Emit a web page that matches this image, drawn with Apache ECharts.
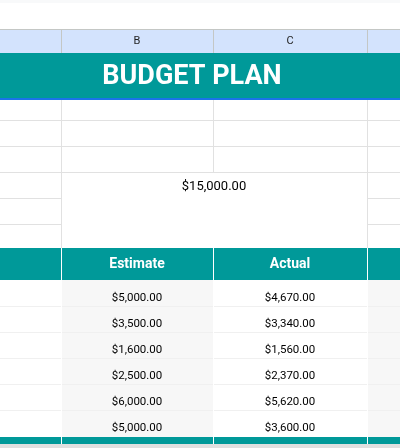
<!DOCTYPE html>
<html><head><meta charset="utf-8">
<script src="https://cdn.jsdelivr.net/npm/echarts@6/dist/echarts.min.js"></script>
<style>html,body{margin:0;padding:0;background:#fff}#c{width:400px;height:448px}</style>
</head><body><div id="c"></div>
<script>
const columnLetters = ['', 'B', 'C', ''];
const headers = ['', 'Estimate', 'Actual', ''];
const estimates = [5000, 3500, 1600, 2500, 6000, 5000];
const actuals = [4670, 3340, 1560, 2370, 5620, 3600];
const total = 15000;
const title = 'BUDGET PLAN';

const colX = [0, 61, 213, 367, 400];
const fmt = v => '$' + v.toLocaleString('en-US', {minimumFractionDigits: 2, maximumFractionDigits: 2});
const F = 'Roboto';
const g = [];
const rect = (x, y, w, h, fill, z) => g.push({type: 'rect', shape: {x, y, width: w, height: h}, style: {fill}, z: z || 1, silent: true});
const text = (x, y, t, size, color, weight) => g.push({type: 'text', x, y, style: {text: t, fontSize: size, fill: color, fontWeight: weight || 'normal', fontFamily: F, align: 'center', verticalAlign: 'middle'}, z: 5, silent: true});

rect(0, 0, 400, 3, '#f8f9fa');
// column header row
rect(0, 29, 400, 24, '#d3e3fd');
rect(0, 29, 400, 1, '#c4c7c5', 3);
for (let i = 1; i < 4; i++) rect(colX[i], 29, 1, 24, '#c4c7c5', 3);
for (let i = 0; i < 4; i++) if (columnLetters[i]) text((colX[i] + colX[i + 1]) / 2, 41, columnLetters[i], 11, '#1f1f1f');
// title
rect(0, 53, 400, 46, '#009999');
rect(0, 98, 400, 2, '#1a73e8', 3);
text(192, 77, title, 27, '#ffffff', 'bold');
// empty rows
const emptyRows = [100, 120, 146, 172, 198, 224, 248];
for (let i = 1; i < emptyRows.length - 1; i++) {
  const y = emptyRows[i];
  if (y === 198 || y === 224) { rect(0, y, 61, 1, '#e1e1e1', 2); rect(367, y, 33, 1, '#e1e1e1', 2); }
  else rect(0, y, 400, 1, '#e1e1e1', 2);
}
for (let i = 1; i < 4; i++) rect(colX[i], 100, 1, 148, '#e1e1e1', 2);
rect(61, 172, 306, 1, '#e1e1e1', 3);
g.pop(); // keep merged cell clean above the total? restore
rect(0, 172, 400, 1, '#e1e1e1', 2);
rect(62, 173, 304, 75, '#ffffff', 2.5);
text(214, 187, fmt(total), 13, '#000000');
// table header
rect(0, 248, 400, 32, '#009999');
for (let i = 1; i < 4; i++) rect(colX[i], 248, 1, 32, '#ffffff', 3);
for (let i = 0; i < 4; i++) if (headers[i]) text((colX[i] + colX[i + 1]) / 2, 264, headers[i], 14, '#ffffff', 'bold');
// data
rect(61, 280, 152, 157, '#f7f7f7');
rect(367, 280, 33, 157, '#f7f7f7');
estimates.forEach((v, r) => {
  const y = 280 + r * 26;
  if (r > 0) rect(0, y, 400, 1, '#f0f0f0', 2);
  text(137, y + 18, fmt(v), 11.5, '#000000');
  text(290, y + 18, fmt(actuals[r]), 11.5, '#000000');
});
for (let i = 1; i < 4; i++) rect(colX[i], 280, 1, 157, '#ffffff', 3);
rect(0, 437, 400, 7, '#009999');
for (let i = 1; i < 4; i++) rect(colX[i], 437, 1, 7, '#ffffff', 3);
rect(0, 444, 400, 4, '#e0e0e0');

const chart = echarts.init(document.getElementById('c'));
chart.setOption({animation: false, graphic: {elements: g}});
</script></body></html>
